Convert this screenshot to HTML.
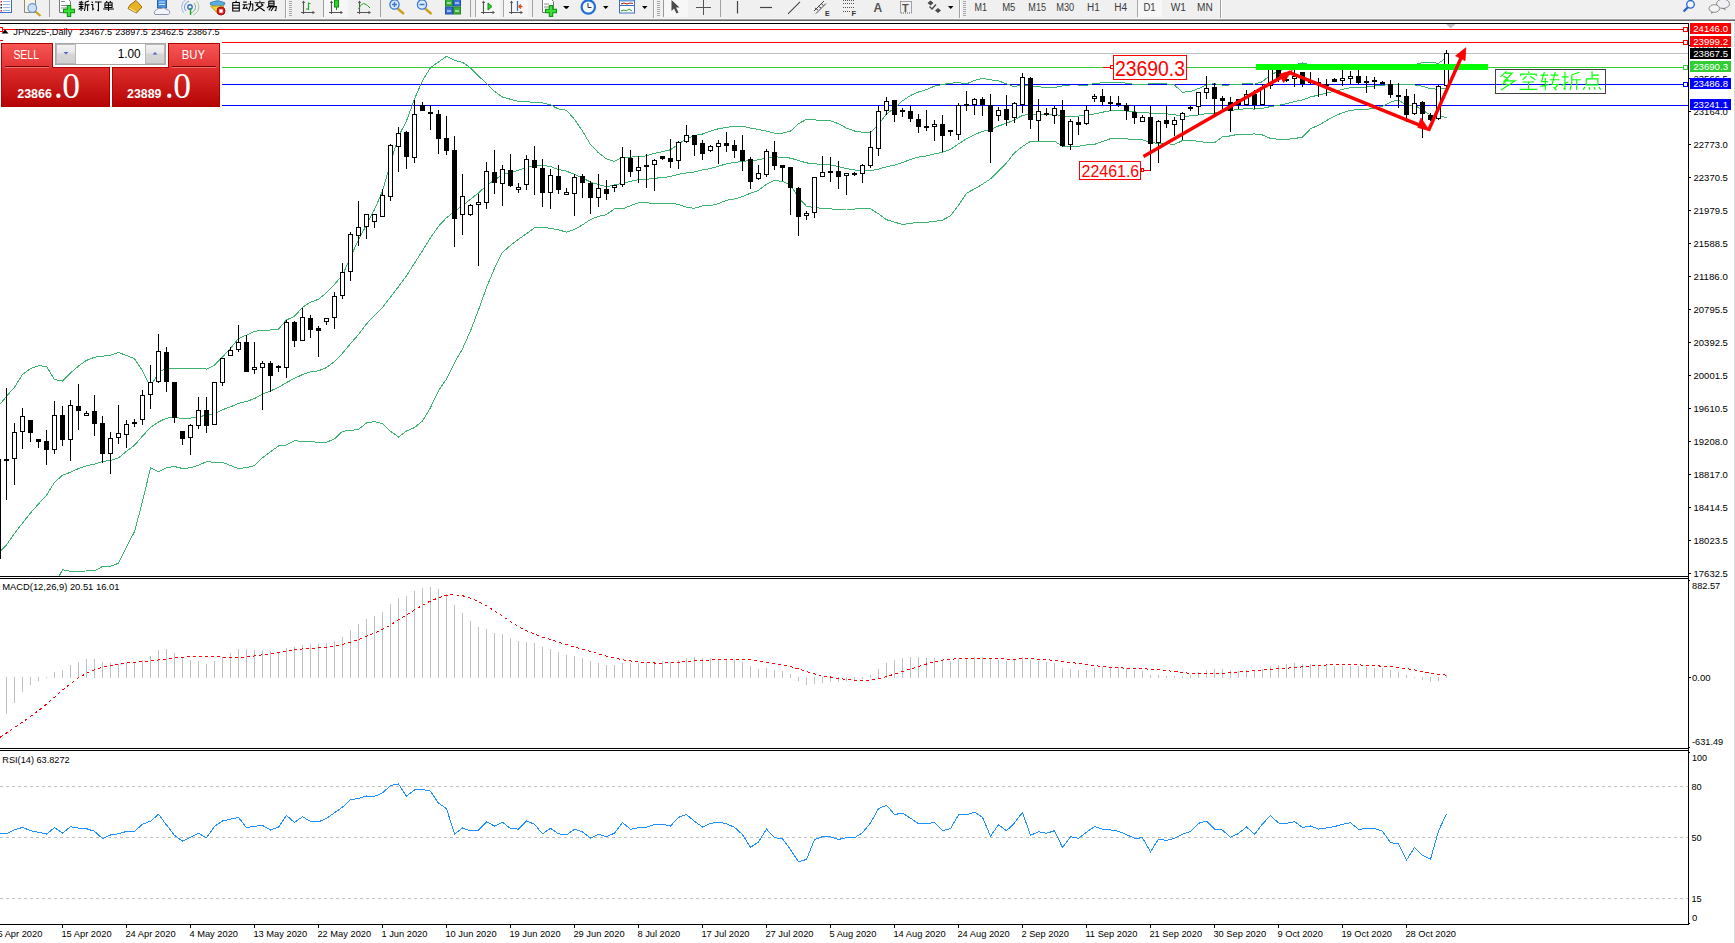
<!DOCTYPE html><html><head><meta charset="utf-8"><style>
html,body{margin:0;padding:0;background:#fff;width:1735px;height:943px;overflow:hidden}
svg{position:absolute;left:0;top:0;display:block}
</style></head><body>
<svg width="1735" height="943" viewBox="0 0 1735 943">
<defs><clipPath id="cm"><rect x="0" y="24" width="1688" height="552"/></clipPath><clipPath id="cd"><rect x="0" y="579" width="1688" height="169"/></clipPath><clipPath id="cr"><rect x="0" y="751" width="1688" height="173"/></clipPath><linearGradient id="gr" x1="0" y1="0" x2="0" y2="1"><stop offset="0" stop-color="#f85656"/><stop offset="0.38" stop-color="#e23434"/><stop offset="0.4" stop-color="#dc2c2c"/><stop offset="1" stop-color="#b40404"/></linearGradient><linearGradient id="gs" x1="0" y1="0" x2="0" y2="1"><stop offset="0" stop-color="#f4f4f4"/><stop offset="0.45" stop-color="#e6e6e6"/><stop offset="0.5" stop-color="#d6d6d6"/><stop offset="1" stop-color="#d0d0d0"/></linearGradient></defs>
<rect x="0" y="0" width="1735" height="943" fill="#fff"/>
<rect x="0" y="0" width="1735" height="18" fill="#f0f0f0"/>
<rect x="0" y="18" width="1735" height="1" fill="#f5f5f5"/>
<rect x="0" y="19" width="1735" height="1" fill="#a2a2a2"/>
<rect x="0" y="20" width="1735" height="1" fill="#6a6a6a"/>
<path d="M49.5 0V16.5" stroke="#a0a0a0" shape-rendering="crispEdges"/>
<path d="M380.5 0V16.5" stroke="#a0a0a0" shape-rendering="crispEdges"/>
<path d="M470.5 0V16.5" stroke="#a0a0a0" shape-rendering="crispEdges"/>
<path d="M532.5 0V16.5" stroke="#a0a0a0" shape-rendering="crispEdges"/>
<path d="M720.5 0V16.5" stroke="#a0a0a0" shape-rendering="crispEdges"/>
<path d="M285.5 0V18" stroke="#a0a0a0" shape-rendering="crispEdges"/><path d="M286.5 0V18" stroke="#fff" shape-rendering="crispEdges"/>
<path d="M653.5 0V18" stroke="#a0a0a0" shape-rendering="crispEdges"/><path d="M654.5 0V18" stroke="#fff" shape-rendering="crispEdges"/>
<path d="M959.5 0V18" stroke="#a0a0a0" shape-rendering="crispEdges"/><path d="M960.5 0V18" stroke="#fff" shape-rendering="crispEdges"/>
<path d="M1220.5 0V18" stroke="#a0a0a0" shape-rendering="crispEdges"/><path d="M1221.5 0V18" stroke="#fff" shape-rendering="crispEdges"/>
<path d="M289 1.5h3M289 3.5h3M289 5.5h3M289 7.5h3M289 9.5h3M289 11.5h3M289 13.5h3M289 15.5h3" stroke="#a8a8a8" shape-rendering="crispEdges"/>
<path d="M657 1.5h3M657 3.5h3M657 5.5h3M657 7.5h3M657 9.5h3M657 11.5h3M657 13.5h3M657 15.5h3" stroke="#a8a8a8" shape-rendering="crispEdges"/>
<path d="M963 1.5h3M963 3.5h3M963 5.5h3M963 7.5h3M963 9.5h3M963 11.5h3M963 13.5h3M963 15.5h3" stroke="#a8a8a8" shape-rendering="crispEdges"/>
<path d="M663.5 0V17" stroke="#9a9a9a" shape-rendering="crispEdges"/>
<path d="M323.5 0V17" stroke="#9a9a9a" shape-rendering="crispEdges"/>
<rect x="324" y="0" width="24" height="17" fill="#f7f7f7"/>
<rect x="475" y="0" width="25" height="17" fill="#f7f7f7"/>
<rect x="503" y="0" width="25" height="17" fill="#f7f7f7"/>
<rect x="664" y="0" width="24" height="17" fill="#f7f7f7"/>
<rect x="1137" y="0" width="25" height="17" fill="#f7f7f7"/>
<path d="M475.5 0V17M503.5 0V17M1137.5 0V17" stroke="#a8a8a8" shape-rendering="crispEdges"/>
<rect x="-1.5" y="-1.5" width="13" height="14" fill="#fff" stroke="#3b6fc6"/>
<path d="M3 1.5h7M3 4.5h7M3 7.5h7M3 10.5h7" stroke="#9cb8e8"/>
<rect x="0.5" y="1" width="1.5" height="1.5" fill="#e02020"/><rect x="0.5" y="4" width="1.5" height="1.5" fill="#222"/><rect x="0.5" y="7" width="1.5" height="1.5" fill="#222"/><rect x="0.5" y="10" width="1.5" height="1.5" fill="#e02020"/>
<path d="M24.5 -1H35.5V12.5H24.5Z" fill="#f6f2e4" stroke="#8a8a7a"/>
<circle cx="32.3" cy="8" r="4.3" fill="#cfe0f2" stroke="#6a98d8" stroke-width="1.2"/>
<path d="M35.5 11.5L40.5 16" stroke="#c9a020" stroke-width="2.2"/>
<path d="M59.5 -1H68L70.5 1.5V12.5H59.5Z" fill="#fff" stroke="#777"/>
<path d="M61 1.5h4M61 5.5h7M61 8h7" stroke="#888"/>
<path d="M63 11h12M69 5v12" stroke="#129012" stroke-width="4.4"/><path d="M64 11h10M69 6v10" stroke="#36e036" stroke-width="2.4"/>
<path d="M81.10 0.80 L81.44 1.82M78.86 2.33 L83.34 2.33M79.98 3.04 L80.54 4.06M82.22 3.04 L81.66 4.06M78.64 4.57 L83.56 4.57M78.86 6.51 L83.34 6.51M81.10 4.57 L81.10 11.00M81.10 7.12 L78.64 9.57M81.44 7.53 L83.34 8.96M88.94 1.11 L85.24 2.33M85.24 2.33 L85.24 6.92 L84.46 11.00M85.24 4.88 L89.50 4.88M87.60 4.88 L87.60 11.00M91.61 1.62 L92.84 2.74M91.05 4.47 L92.73 4.47 L92.73 9.57 L93.96 8.55M94.86 2.02 L101.58 2.02M98.44 2.02 L98.44 10.59 L97.21 9.98M106.26 1.00 L107.16 2.13M110.74 1.00 L109.84 2.13M104.92 2.84 L112.08 2.84 L112.08 7.43 L104.92 7.43 L104.92 2.84M104.92 5.13 L112.08 5.13M108.50 2.84 L108.50 11.00M103.12 9.06 L113.88 9.06" fill="none" stroke="#000" stroke-width="1.05"/>
<path d="M130 5L136 0.5L142 7L136.5 13L128 8.5Z" fill="#e6b422" stroke="#9a6a10"/><path d="M129 8L136 12" stroke="#fff3b0"/>
<rect x="157.5" y="-1" width="9" height="9" fill="#4a90e0" stroke="#2060b0"/><path d="M159 2h6M159 4.5h6" stroke="#cfe4ff"/>
<path d="M155 14.5Q153 11 156.5 10Q157.5 7.5 161 8.5Q164 6.5 166.5 9.5Q170.5 10 169.5 13.5Q169 14.8 167 14.5Z" fill="#f2f4f8" stroke="#8a94a6"/>
<g fill="none"><circle cx="190" cy="7" r="2.2" stroke="#3a6fd0" stroke-width="1.4"/><path d="M186 11A6 6 0 0 1 189 1.3" stroke="#6a8fd8"/><path d="M184 13A8.6 8.6 0 0 1 187.5 -1" stroke="#9ab4e4"/><path d="M194 3A6 6 0 0 1 191 12.8" stroke="#7ab07a"/><path d="M196.5 1A8.6 8.6 0 0 1 193 15" stroke="#a6c8a6"/><path d="M190.5 8v7" stroke="#22aa22" stroke-width="1.4"/></g>
<path d="M210 3Q217 -1 225 3L224 5Q217 8 211 5Z" fill="#5aaee0" stroke="#3a80b8"/><path d="M215 0L216 -1L219 -1L220 2Z" fill="#5aaee0"/>
<path d="M210.5 6L224 6L218 14Z" fill="#f0d040" stroke="#c0a020"/>
<circle cx="221" cy="11" r="4" fill="#d82020" stroke="#a01010"/><rect x="219.3" y="9.3" width="3.4" height="3.4" fill="#fff"/>
<path d="M236.55 0.80 L235.56 2.33M232.70 2.43 L239.30 2.43 L239.30 11.00 L232.70 11.00 L232.70 2.43M232.70 5.29 L239.30 5.29M232.70 8.14 L239.30 8.14M243.18 2.13 L246.70 2.13M242.52 4.78 L247.58 4.78M245.05 4.78 L243.18 8.55 L247.25 8.04M246.26 6.82 L247.58 9.16M248.24 3.96 L252.75 3.96 L252.75 10.18 L251.54 10.59M250.55 1.11 L250.44 5.39 L248.46 11.00M259.60 0.80 L260.15 1.82M254.65 2.74 L264.55 2.74M258.06 3.76 L255.86 5.49M261.14 3.76 L263.34 5.49M256.96 5.49 L264.66 11.00M262.24 5.49 L254.54 11.00M268.76 1.11 L274.04 1.11 L274.04 5.19 L268.76 5.19 L268.76 1.11M268.76 3.15 L274.04 3.15M268.98 5.80 L267.00 8.14M268.54 6.61 L276.35 6.61 L275.80 10.59 L274.59 10.59M271.40 6.61 L268.76 10.39M273.93 6.61 L270.96 11.00" fill="none" stroke="#000" stroke-width="1.05"/>
<path d="M303.5 2V14M301 12.5H314" stroke="#555" stroke-width="1.1" fill="none"/><path d="M303.5 0.5L301.8 3H305.2Z M315 12.5L312.5 10.8V14.2Z" fill="#555"/>
<path d="M308.5 2.5V10M308.5 3.5h2M306 9h2.5" stroke="#22aa22" stroke-width="1.2" fill="none"/>
<path d="M331.5 2V14M329 12.5H342" stroke="#555" stroke-width="1.1" fill="none"/><path d="M331.5 0.5L329.8 3H333.2Z M343 12.5L340.5 10.8V14.2Z" fill="#555"/>
<rect x="334.5" y="0" width="4" height="7" fill="#2fd52f" stroke="#138a13"/><path d="M336.5 7v3" stroke="#138a13"/>
<path d="M359.5 2V14M357 12.5H370" stroke="#555" stroke-width="1.1" fill="none"/><path d="M359.5 0.5L357.8 3H361.2Z M371 12.5L368.5 10.8V14.2Z" fill="#555"/>
<path d="M358.5 9Q362 2 365 4Q367.5 5 370 8" stroke="#22aa22" fill="none"/>
<path d="M397.5 8.5L404.0 14" stroke="#c9a020" stroke-width="2.4"/>
<circle cx="394.5" cy="4.5" r="4.6" fill="#dcebfa" stroke="#3b78d0" stroke-width="1.3"/>
<path d="M392.0 4.5h5M394.5 2v5" stroke="#3b78d0" stroke-width="1.5"/>
<path d="M425 8.5L431.5 14" stroke="#c9a020" stroke-width="2.4"/>
<circle cx="422" cy="4.5" r="4.6" fill="#dcebfa" stroke="#3b78d0" stroke-width="1.3"/>
<path d="M419.5 4.5h5" stroke="#3b78d0" stroke-width="1.5"/>
<rect x="445.5" y="-1" width="7" height="7" fill="#3cb03c" stroke="#208a20"/><rect x="453.5" y="-1" width="7" height="7" fill="#3a70d8" stroke="#2050b0"/><rect x="445.5" y="7" width="7" height="7" fill="#3a70d8" stroke="#2050b0"/><rect x="453.5" y="7" width="7" height="7" fill="#3cb03c" stroke="#208a20"/><path d="M447 3h4M455 3h4M447 11h4M455 11h4" stroke="#fff"/>
<path d="M483.5 2V14M481 12.5H494" stroke="#555" stroke-width="1.1" fill="none"/><path d="M483.5 0.5L481.8 3H485.2Z M495 12.5L492.5 10.8V14.2Z" fill="#555"/>
<path d="M488 3L492 6.5L488 10Z" fill="#2fd52f" stroke="#138a13"/>
<path d="M511.5 2V14M509 12.5H522" stroke="#555" stroke-width="1.1" fill="none"/><path d="M511.5 0.5L509.8 3H513.2Z M523 12.5L520.5 10.8V14.2Z" fill="#555"/>
<path d="M517.5 1V11" stroke="#2a6ad0" stroke-width="1.2"/><path d="M518.5 6.5h4M518.5 6.5l2.5-2M518.5 6.5l2.5 2" stroke="#e05010" stroke-width="1.3" fill="none"/>
<path d="M542.5 -1H551L553.5 1.5V12.5H542.5Z" fill="#fff" stroke="#777"/><path d="M544 4h5M544 7h7" stroke="#888"/>
<path d="M545 11h12M551 5v12" stroke="#129012" stroke-width="4.4"/><path d="M546 11h10M551 6v10" stroke="#36e036" stroke-width="2.4"/>
<path d="M564 6H569.5L566.75 9Z" fill="#000"/>
<path d="M603 6H608.5L605.75 9Z" fill="#000"/>
<path d="M642 6H647.5L644.75 9Z" fill="#000"/>
<path d="M948 6H953.5L950.75 9Z" fill="#000"/>
<path d="M563 6H569L566 9Z" fill="#000"/>
<circle cx="588.3" cy="7" r="7.8" fill="#1f6fd6"/><circle cx="588.3" cy="7" r="5.6" fill="#f4f8ff"/><path d="M588 3V7.5H591.5" stroke="#333" fill="none"/>
<rect x="619.5" y="-1" width="15" height="14" fill="#fff" stroke="#3a70c8"/><rect x="620" y="-0.5" width="14" height="2" fill="#6a9ae0"/><path d="M620 5.5h14" stroke="#3a70c8"/><path d="M621 4L624 3L627 4L630 3L633 3.5" stroke="#b02010" fill="none"/><path d="M621 11L624 10L626.5 10.8L629 9L632 11" stroke="#20a020" fill="none"/>
<path d="M671.5 0L671.5 11L674 8.5L676.5 13.5L678.5 12.5L676 7.5L679.5 7.5Z" fill="#4a4a4a"/>
<path d="M703.5 0V14.5M696 7.5H711" stroke="#555" fill="none" shape-rendering="crispEdges"/>
<path d="M737.5 1V13.5" stroke="#444" stroke-width="1.2"/><path d="M760 7.5H772" stroke="#444" stroke-width="1.2"/><path d="M788 13.8L800 1.8" stroke="#444" stroke-width="1.1"/>
<path d="M814 11L824 1M816 13.5L826 3.5M815 8L818 10M818 6L821 8M821 3.5L823.5 5.5" stroke="#444" fill="none"/><text x="825" y="15.5" font-family="Liberation Sans, sans-serif" font-weight="bold" font-size="7px" fill="#333">E</text>
<path d="M843 0.5h11M843 3.5h11M843 7.5h11M843 11.5h7" stroke="#555" stroke-dasharray="1,1" fill="none"/><text x="851.5" y="15.5" font-family="Liberation Sans, sans-serif" font-weight="bold" font-size="7.5px" fill="#333">F</text>
<text x="873.5" y="12" font-family="Liberation Sans, sans-serif" font-weight="bold" font-size="12px" fill="#555">A</text>
<rect x="900.5" y="1.5" width="11" height="11.5" fill="none" stroke="#555" stroke-dasharray="1,1"/><text x="902" y="11.5" font-family="Liberation Sans, sans-serif" font-weight="bold" font-size="11px" fill="#555">T</text>
<path d="M927.5 3L930.5 0.5L933.5 3L930.5 5.5Z M935 10.5L938 8L941 10.5L938 13Z" fill="#4a4a4a"/><path d="M929.5 6.5L932 9L936 4.5" stroke="#4a4a4a" stroke-width="1.4" fill="none"/>
<text x="974.5" y="11.3" textLength="12.5" lengthAdjust="spacingAndGlyphs" font-family="Liberation Sans, sans-serif" font-size="10px" fill="#3c3c3c">M1</text>
<text x="1002.2" y="11.3" textLength="13.2" lengthAdjust="spacingAndGlyphs" font-family="Liberation Sans, sans-serif" font-size="10px" fill="#3c3c3c">M5</text>
<text x="1028.3" y="11.3" textLength="17.7" lengthAdjust="spacingAndGlyphs" font-family="Liberation Sans, sans-serif" font-size="10px" fill="#3c3c3c">M15</text>
<text x="1056.2" y="11.3" textLength="18.0" lengthAdjust="spacingAndGlyphs" font-family="Liberation Sans, sans-serif" font-size="10px" fill="#3c3c3c">M30</text>
<text x="1087.1" y="11.3" textLength="12.7" lengthAdjust="spacingAndGlyphs" font-family="Liberation Sans, sans-serif" font-size="10px" fill="#3c3c3c">H1</text>
<text x="1114.3" y="11.3" textLength="12.9" lengthAdjust="spacingAndGlyphs" font-family="Liberation Sans, sans-serif" font-size="10px" fill="#3c3c3c">H4</text>
<text x="1143.4" y="11.3" textLength="12.2" lengthAdjust="spacingAndGlyphs" font-family="Liberation Sans, sans-serif" font-size="10px" fill="#3c3c3c">D1</text>
<text x="1170.8" y="11.3" textLength="15.2" lengthAdjust="spacingAndGlyphs" font-family="Liberation Sans, sans-serif" font-size="10px" fill="#3c3c3c">W1</text>
<text x="1197" y="11.3" textLength="15.7" lengthAdjust="spacingAndGlyphs" font-family="Liberation Sans, sans-serif" font-size="10px" fill="#3c3c3c">MN</text>
<circle cx="1690.5" cy="4.3" r="3.8" fill="#f4f6ff" stroke="#2a62d2" stroke-width="1.3"/><path d="M1687.8 7.2L1683.6 11.6" stroke="#2a62d2" stroke-width="2.2"/>
<ellipse cx="1723" cy="3.8" rx="6.5" ry="4.6" fill="#f0f0f4" stroke="#8a8a8a"/><path d="M1724.5 8L1726 10.5L1722 8.3Z" fill="#777"/>
<ellipse cx="1714.3" cy="8.5" rx="5.3" ry="3.8" fill="#f4f4f8" stroke="#8a8a8a"/><path d="M1711.5 12L1711 14L1713.5 12.3Z" fill="#777"/>
<path d="M1734.5 21V943" stroke="#d8d8d8" shape-rendering="crispEdges"/>
<path d="M0 23.5H1688.5M0 576.5H1688.5M0 578.5H1688.5M0 748.5H1688.5M0 750.5H1688.5M0 924.5H1688.5M1688.5 23V925" stroke="#000" fill="none" shape-rendering="crispEdges"/>
<path d="M1689 111.5h2M1689 144.5h2M1689 177.5h2M1689 210.5h2M1689 243.5h2M1689 276.5h2M1689 309.5h2M1689 342.5h2M1689 375.5h2M1689 408.5h2M1689 441.5h2M1689 474.5h2M1689 507.5h2M1689 540.5h2M1689 573.5h2M1689 78.5h2M1689 45.5h2M1689 580.5h1M1689 677.5h2M1689 747.5h1M1689 752.5h1M1689 923.5h1" stroke="#000" shape-rendering="crispEdges"/>
<g clip-path="url(#cm)" shape-rendering="crispEdges" fill="none">
<path d="M0 29.5H1688" stroke="#f00"/><path d="M0 42.5H1688" stroke="#f00"/><path d="M0 53.5H1688" stroke="#c0c0c0"/>
<path d="M0 67.5H1103M1187 67.5H1688" stroke="#32cd32"/><path d="M1103 67.5H1111" stroke="#f00"/>
<path d="M0 84.5H1688" stroke="#00f"/><path d="M0 105.5H1688" stroke="#00f"/>
</g>
<path d="M1446 24H1455.5L1450.75 28.5Z" fill="#c0c0c0"/>
<g clip-path="url(#cm)" fill="none" stroke="#3cb371" stroke-width="1" shape-rendering="crispEdges">
<polyline points="-9.5,416.5 -1.5,406.1 6.5,396.3 14.5,387.2 22.5,374.4 30.5,368.6 38.5,365.8 46.5,366.3 54.5,379.6 62.5,381.0 70.5,373.0 78.5,366.0 86.5,360.4 94.5,357.2 102.5,356.3 110.5,355.1 118.5,352.5 126.5,355.5 134.5,358.7 142.5,370.9 150.5,387.0 158.5,372.2 166.5,368.6 174.5,368.3 182.5,368.6 190.5,368.6 198.5,368.1 206.5,369.1 214.5,365.2 222.5,357.0 230.5,348.2 238.5,338.5 246.5,335.1 254.5,331.4 262.5,330.2 270.5,330.0 278.5,329.1 286.5,320.0 294.5,316.2 302.5,307.4 310.5,302.1 318.5,299.3 326.5,292.8 334.5,284.3 342.5,275.2 350.5,257.0 358.5,239.7 366.5,224.9 374.5,209.5 382.5,191.2 390.5,163.0 398.5,136.4 406.5,120.9 414.5,99.1 422.5,80.5 430.5,67.7 438.5,61.9 446.5,56.4 454.5,60.4 462.5,62.3 470.5,67.8 478.5,75.9 486.5,83.5 494.5,91.4 502.5,97.0 510.5,99.3 518.5,101.4 526.5,101.5 534.5,102.7 542.5,102.8 550.5,104.9 558.5,109.0 566.5,110.3 574.5,119.3 582.5,131.0 590.5,144.6 598.5,152.8 606.5,158.9 614.5,161.4 622.5,157.2 630.5,157.1 638.5,156.6 646.5,155.9 654.5,153.3 662.5,151.6 670.5,149.8 678.5,144.1 686.5,138.7 694.5,135.5 702.5,134.0 710.5,131.2 718.5,128.7 726.5,127.4 734.5,126.1 742.5,126.2 750.5,128.1 758.5,129.4 766.5,131.2 774.5,133.1 782.5,133.2 790.5,131.2 798.5,123.6 806.5,119.4 814.5,119.9 822.5,120.5 830.5,120.9 838.5,123.7 846.5,128.1 854.5,131.0 862.5,132.3 870.5,132.5 878.5,124.3 886.5,114.0 894.5,107.9 902.5,100.8 910.5,95.5 918.5,92.0 926.5,89.5 934.5,86.2 942.5,84.5 950.5,83.2 958.5,82.6 966.5,83.9 974.5,80.4 982.5,78.5 990.5,79.8 998.5,80.9 1006.5,83.8 1014.5,86.9 1022.5,84.4 1030.5,86.6 1038.5,86.6 1046.5,87.9 1054.5,87.4 1062.5,85.9 1070.5,86.0 1078.5,86.0 1086.5,85.5 1094.5,83.3 1102.5,82.9 1110.5,82.7 1118.5,82.6 1126.5,83.1 1134.5,84.4 1142.5,85.0 1150.5,83.5 1158.5,83.9 1166.5,83.9 1174.5,85.0 1182.5,92.3 1190.5,91.5 1198.5,88.6 1206.5,84.7 1214.5,83.7 1222.5,85.1 1230.5,85.0 1238.5,84.8 1246.5,83.1 1254.5,84.2 1262.5,81.7 1270.5,74.8 1278.5,71.3 1286.5,68.1 1294.5,64.7 1302.5,63.0 1310.5,65.0 1318.5,64.9 1326.5,65.5 1334.5,66.2 1342.5,66.0 1350.5,65.4 1358.5,64.9 1366.5,64.5 1374.5,64.3 1382.5,64.5 1390.5,66.8 1398.5,68.2 1406.5,64.6 1414.5,64.8 1422.5,62.6 1430.5,62.5 1438.5,63.2 1446.5,57.8"/>
<polyline points="-9.5,557.2 -1.5,553.1 6.5,544.9 14.5,533.4 22.5,523.1 30.5,513.0 38.5,503.9 46.5,495.4 54.5,482.2 62.5,475.3 70.5,472.2 78.5,468.6 86.5,465.7 94.5,464.1 102.5,461.4 110.5,460.6 118.5,457.9 126.5,451.2 134.5,445.2 142.5,436.1 150.5,427.4 158.5,422.0 166.5,418.1 174.5,417.4 182.5,418.5 190.5,418.2 198.5,416.6 206.5,415.4 214.5,413.7 222.5,409.7 230.5,406.9 238.5,403.5 246.5,401.4 254.5,398.6 262.5,394.0 270.5,390.9 278.5,387.5 286.5,382.5 294.5,378.4 302.5,374.5 310.5,371.8 318.5,370.8 326.5,367.6 334.5,361.6 342.5,353.2 350.5,343.7 358.5,334.5 366.5,323.9 374.5,315.5 382.5,307.4 390.5,297.1 398.5,286.7 406.5,275.9 414.5,263.3 422.5,250.7 430.5,237.7 438.5,226.3 446.5,217.7 454.5,211.6 462.5,205.5 470.5,199.3 478.5,192.9 486.5,185.6 494.5,179.9 502.5,174.7 510.5,172.3 518.5,170.3 526.5,167.6 534.5,165.2 542.5,165.1 550.5,166.6 558.5,169.5 566.5,171.2 574.5,174.3 582.5,177.9 590.5,182.1 598.5,184.6 606.5,186.7 614.5,185.0 622.5,183.1 630.5,181.4 638.5,179.7 646.5,179.4 654.5,178.2 662.5,177.7 670.5,176.5 678.5,174.2 686.5,173.0 694.5,171.9 702.5,169.9 710.5,168.5 718.5,166.2 726.5,163.8 734.5,162.5 742.5,161.4 750.5,160.6 758.5,159.9 766.5,157.7 774.5,156.8 782.5,157.3 790.5,158.1 798.5,160.5 806.5,162.9 814.5,163.8 822.5,164.4 830.5,164.9 838.5,166.6 846.5,168.6 854.5,170.0 862.5,170.6 870.5,170.7 878.5,169.1 886.5,166.8 894.5,165.1 902.5,162.6 910.5,159.4 918.5,157.1 926.5,155.9 934.5,153.9 942.5,152.3 950.5,149.5 958.5,143.9 966.5,138.6 974.5,134.7 982.5,131.3 990.5,129.3 998.5,126.0 1006.5,123.3 1014.5,119.8 1022.5,115.4 1030.5,114.0 1038.5,114.0 1046.5,114.7 1054.5,114.3 1062.5,116.0 1070.5,116.2 1078.5,116.1 1086.5,115.3 1094.5,113.9 1102.5,112.2 1110.5,110.7 1118.5,110.7 1126.5,111.0 1134.5,111.9 1142.5,112.5 1150.5,113.1 1158.5,113.6 1166.5,113.8 1174.5,114.7 1182.5,116.5 1190.5,115.9 1198.5,115.0 1206.5,113.6 1214.5,113.2 1222.5,110.9 1230.5,110.4 1238.5,109.5 1246.5,108.6 1254.5,109.1 1262.5,108.3 1270.5,106.6 1278.5,105.3 1286.5,103.7 1294.5,101.6 1302.5,100.0 1310.5,96.9 1318.5,95.1 1326.5,93.1 1334.5,91.1 1342.5,89.4 1350.5,87.8 1358.5,87.3 1366.5,87.0 1374.5,86.1 1382.5,85.3 1390.5,84.5 1398.5,84.0 1406.5,85.0 1414.5,84.9 1422.5,86.3 1430.5,88.8 1438.5,89.2 1446.5,87.9"/>
<polyline points="-9.5,697.9 -1.5,700.0 6.5,693.5 14.5,679.6 22.5,671.8 30.5,657.4 38.5,641.9 46.5,624.4 54.5,584.8 62.5,569.7 70.5,571.4 78.5,571.1 86.5,571.0 94.5,570.9 102.5,566.5 110.5,566.1 118.5,563.3 126.5,546.9 134.5,531.6 142.5,501.4 150.5,467.9 158.5,471.9 166.5,467.6 174.5,466.5 182.5,468.5 190.5,467.8 198.5,465.1 206.5,461.7 214.5,462.2 222.5,462.3 230.5,465.6 238.5,468.5 246.5,467.7 254.5,465.7 262.5,457.8 270.5,451.7 278.5,446.0 286.5,445.0 294.5,440.6 302.5,441.6 310.5,441.6 318.5,442.4 326.5,442.4 334.5,438.8 342.5,431.3 350.5,430.4 358.5,429.4 366.5,423.0 374.5,421.6 382.5,423.6 390.5,431.3 398.5,436.9 406.5,431.0 414.5,427.6 422.5,420.9 430.5,407.6 438.5,390.6 446.5,379.0 454.5,362.7 462.5,348.8 470.5,330.8 478.5,309.9 486.5,287.6 494.5,268.4 502.5,252.4 510.5,245.3 518.5,239.2 526.5,233.7 534.5,227.8 542.5,227.4 550.5,228.3 558.5,229.9 566.5,232.1 574.5,229.4 582.5,224.8 590.5,219.5 598.5,216.3 606.5,214.6 614.5,208.7 622.5,209.0 630.5,205.7 638.5,202.7 646.5,202.9 654.5,203.2 662.5,203.9 670.5,203.3 678.5,204.4 686.5,207.3 694.5,208.3 702.5,205.8 710.5,205.7 718.5,203.6 726.5,200.3 734.5,198.9 742.5,196.6 750.5,193.1 758.5,190.4 766.5,184.2 774.5,180.4 782.5,181.4 790.5,184.9 798.5,197.5 806.5,206.3 814.5,207.6 822.5,208.3 830.5,208.9 838.5,209.6 846.5,209.0 854.5,209.0 862.5,208.9 870.5,208.8 878.5,213.8 886.5,219.7 894.5,222.2 902.5,224.4 910.5,223.4 918.5,222.3 926.5,222.3 934.5,221.5 942.5,220.1 950.5,215.8 958.5,205.3 966.5,193.2 974.5,188.9 982.5,184.2 990.5,178.9 998.5,171.1 1006.5,162.9 1014.5,152.8 1022.5,146.4 1030.5,141.4 1038.5,141.4 1046.5,141.4 1054.5,141.3 1062.5,146.2 1070.5,146.4 1078.5,146.2 1086.5,145.0 1094.5,144.4 1102.5,141.4 1110.5,138.7 1118.5,138.7 1126.5,138.9 1134.5,139.4 1142.5,139.9 1150.5,142.6 1158.5,143.3 1166.5,143.8 1174.5,144.3 1182.5,140.6 1190.5,140.3 1198.5,141.3 1206.5,142.5 1214.5,142.7 1222.5,136.8 1230.5,135.9 1238.5,134.1 1246.5,134.1 1254.5,134.0 1262.5,135.0 1270.5,138.4 1278.5,139.3 1286.5,139.3 1294.5,138.6 1302.5,137.0 1310.5,128.8 1318.5,125.3 1326.5,120.6 1334.5,116.1 1342.5,112.8 1350.5,110.2 1358.5,109.7 1366.5,109.5 1374.5,108.0 1382.5,106.1 1390.5,102.1 1398.5,99.8 1406.5,105.4 1414.5,105.1 1422.5,110.0 1430.5,115.2 1438.5,115.2 1446.5,118.0"/>
</g>
<g clip-path="url(#cm)" shape-rendering="crispEdges">
<path d="M-1.5 459V559M6.5 388V500M14.5 423V485M22.5 408V449M30.5 420V442M38.5 439V448M46.5 430V465M54.5 401V454M62.5 406V446M70.5 400V461M78.5 384V430M86.5 411V416M94.5 395V436M102.5 416V463M110.5 432V474M118.5 405V444M126.5 420V448M134.5 419V427M142.5 390V425M150.5 365V409M158.5 334V383M166.5 347V392M174.5 382V423M182.5 431V445M190.5 424V455M198.5 397V429M206.5 397V433M214.5 382V425M222.5 358V386M230.5 347V356M238.5 325V352M246.5 335V372M254.5 342V374M262.5 361V410M270.5 361V392M278.5 365V372M286.5 320V378M294.5 321V347M302.5 308V341M310.5 315V338M318.5 326V357M326.5 318V325M334.5 292V329M342.5 263V299M350.5 232V281M358.5 201V246M366.5 214V239M374.5 214V228M382.5 189V217M390.5 144V201M398.5 127V172M406.5 131V169M414.5 100V163M422.5 102V111M430.5 105V130M438.5 110V154M446.5 116V155M454.5 136V247M462.5 174V235M470.5 204V216M478.5 194V266M486.5 162V209M494.5 150V194M502.5 165V206M510.5 154V187M518.5 183V193M526.5 155V190M534.5 146V195M542.5 159V207M550.5 169V209M558.5 165V194M566.5 188V195M574.5 174V216M582.5 174V198M590.5 181V214M598.5 174V207M606.5 180V200M614.5 185V192M622.5 147V187M630.5 150V177M638.5 156V183M646.5 154V188M654.5 159V191M662.5 156V160M670.5 139V168M678.5 141V169M686.5 125V143M694.5 135V156M702.5 140V160M710.5 145V152M718.5 140V164M726.5 132V152M734.5 140V158M742.5 135V171M750.5 157V189M758.5 165V180M766.5 149V177M774.5 141V170M782.5 165V181M790.5 167V215M798.5 187V236M806.5 211V220M814.5 177V218M822.5 156V177M830.5 157V182M838.5 161V189M846.5 173V195M854.5 172V176M862.5 164V183M870.5 131V168M878.5 106V156M886.5 97V115M894.5 100V122M902.5 108V117M910.5 106V122M918.5 114V133M926.5 110V131M934.5 120V141M942.5 115V152M950.5 130V136M958.5 103V140M966.5 91V111M974.5 98V115M982.5 97V116M990.5 94V163M998.5 107V121M1006.5 95V126M1014.5 102V123M1022.5 73V113M1030.5 77V129M1038.5 99V141M1046.5 108V116M1054.5 106V124M1062.5 100V147M1070.5 119V150M1078.5 117V135M1086.5 105V125M1094.5 94V102M1102.5 89V105M1110.5 96V111M1118.5 96V107M1126.5 103V120M1134.5 106V124M1142.5 115V122M1150.5 106V171M1158.5 120V163M1166.5 105V128M1174.5 117V136M1182.5 112V140M1190.5 106V111M1198.5 92V115M1206.5 76V99M1214.5 83V114M1222.5 96V109M1230.5 97V132M1238.5 99V109M1246.5 90V106M1254.5 90V109M1262.5 84V105M1270.5 66V89M1278.5 64V82M1286.5 75V82M1294.5 70V87M1302.5 72V87M1310.5 72V84M1318.5 78V97M1326.5 79V96M1334.5 78V82M1342.5 70V86M1350.5 71V84M1358.5 70V84M1366.5 76V93M1374.5 77V89M1382.5 81V84M1390.5 80V98M1398.5 83V108M1406.5 89V122M1414.5 94V115M1422.5 101V138M1430.5 113V121M1438.5 85V120M1446.5 50V87" stroke="#000"/>
<path d="M4 459h5v2h-5zM132 422h5v2h-5zM276 366h5v2h-5zM644 165h5v2h-5zM828 171h5v2h-5zM852 173h5v2h-5zM900 110h5v2h-5zM924 126h5v2h-5zM964 104h5v2h-5zM1044 113h5v2h-5zM1108 102h5v2h-5zM1188 107h5v2h-5zM1284 79h5v2h-5zM1364 81h5v2h-5zM1396 95h5v2h-5z" fill="#000"/>
<path d="M28 420h5v13h-5zM36 439h5v3h-5zM44 441h5v9h-5zM60 415h5v25h-5zM76 406h5v5h-5zM92 411h5v13h-5zM100 423h5v31h-5zM164 352h5v30h-5zM172 382h5v36h-5zM180 431h5v8h-5zM204 410h5v16h-5zM244 342h5v30h-5zM268 363h5v13h-5zM292 322h5v19h-5zM308 318h5v12h-5zM316 328h5v3h-5zM404 132h5v25h-5zM420 105h5v6h-5zM428 112h5v2h-5zM436 114h5v25h-5zM444 138h5v13h-5zM452 150h5v69h-5zM492 172h5v11h-5zM508 170h5v16h-5zM532 160h5v8h-5zM540 168h5v25h-5zM556 176h5v14h-5zM580 176h5v7h-5zM588 183h5v15h-5zM604 189h5v5h-5zM628 158h5v14h-5zM660 156h5v3h-5zM668 158h5v4h-5zM692 135h5v10h-5zM700 143h5v11h-5zM724 143h5v3h-5zM732 145h5v6h-5zM740 150h5v11h-5zM748 159h5v23h-5zM772 152h5v14h-5zM780 165h5v3h-5zM788 167h5v21h-5zM796 188h5v29h-5zM836 171h5v6h-5zM892 100h5v15h-5zM908 111h5v8h-5zM916 119h5v8h-5zM940 124h5v12h-5zM948 130h5v2h-5zM980 99h5v6h-5zM988 105h5v27h-5zM1004 109h5v11h-5zM1028 78h5v42h-5zM1060 110h5v36h-5zM1076 122h5v3h-5zM1100 96h5v6h-5zM1116 103h5v2h-5zM1124 105h5v6h-5zM1132 112h5v6h-5zM1148 117h5v27h-5zM1164 120h5v4h-5zM1212 87h5v12h-5zM1220 98h5v3h-5zM1228 102h5v9h-5zM1236 99h5v6h-5zM1252 94h5v11h-5zM1276 69h5v10h-5zM1300 72h5v12h-5zM1316 82h5v3h-5zM1332 79h5v3h-5zM1356 76h5v7h-5zM1372 80h5v2h-5zM1380 82h5v2h-5zM1388 84h5v11h-5zM1404 96h5v19h-5zM1420 102h5v12h-5zM1428 115h5v5h-5z" fill="#000"/>
<rect x="-3.5" y="459.5" width="4" height="99" fill="#fff" stroke="#000"/><rect x="12.5" y="432.5" width="4" height="26" fill="#fff" stroke="#000"/><rect x="20.5" y="416.5" width="4" height="15" fill="#fff" stroke="#000"/><rect x="52.5" y="415.5" width="4" height="34" fill="#fff" stroke="#000"/><rect x="68.5" y="405.5" width="4" height="34" fill="#fff" stroke="#000"/><rect x="84.5" y="413.5" width="4" height="2" fill="#fff" stroke="#000"/><rect x="108.5" y="438.5" width="4" height="15" fill="#fff" stroke="#000"/><rect x="116.5" y="433.5" width="4" height="4" fill="#fff" stroke="#000"/><rect x="124.5" y="424.5" width="4" height="10" fill="#fff" stroke="#000"/><rect x="140.5" y="395.5" width="4" height="24" fill="#fff" stroke="#000"/><rect x="148.5" y="382.5" width="4" height="12" fill="#fff" stroke="#000"/><rect x="156.5" y="351.5" width="4" height="30" fill="#fff" stroke="#000"/><rect x="188.5" y="425.5" width="4" height="12" fill="#fff" stroke="#000"/><rect x="196.5" y="410.5" width="4" height="15" fill="#fff" stroke="#000"/><rect x="212.5" y="382.5" width="4" height="42" fill="#fff" stroke="#000"/><rect x="220.5" y="358.5" width="4" height="24" fill="#fff" stroke="#000"/><rect x="228.5" y="350.5" width="4" height="5" fill="#fff" stroke="#000"/><rect x="236.5" y="342.5" width="4" height="7" fill="#fff" stroke="#000"/><rect x="252.5" y="367.5" width="4" height="2" fill="#fff" stroke="#000"/><rect x="260.5" y="363.5" width="4" height="4" fill="#fff" stroke="#000"/><rect x="284.5" y="322.5" width="4" height="45" fill="#fff" stroke="#000"/><rect x="300.5" y="317.5" width="4" height="23" fill="#fff" stroke="#000"/><rect x="324.5" y="318.5" width="4" height="3" fill="#fff" stroke="#000"/><rect x="332.5" y="296.5" width="4" height="21" fill="#fff" stroke="#000"/><rect x="340.5" y="272.5" width="4" height="23" fill="#fff" stroke="#000"/><rect x="348.5" y="234.5" width="4" height="37" fill="#fff" stroke="#000"/><rect x="356.5" y="227.5" width="4" height="8" fill="#fff" stroke="#000"/><rect x="364.5" y="214.5" width="4" height="12" fill="#fff" stroke="#000"/><rect x="372.5" y="214.5" width="4" height="7" fill="#fff" stroke="#000"/><rect x="380.5" y="195.5" width="4" height="21" fill="#fff" stroke="#000"/><rect x="388.5" y="145.5" width="4" height="51" fill="#fff" stroke="#000"/><rect x="396.5" y="133.5" width="4" height="13" fill="#fff" stroke="#000"/><rect x="412.5" y="114.5" width="4" height="43" fill="#fff" stroke="#000"/><rect x="460.5" y="196.5" width="4" height="18" fill="#fff" stroke="#000"/><rect x="468.5" y="205.5" width="4" height="9" fill="#fff" stroke="#000"/><rect x="476.5" y="202.5" width="4" height="2" fill="#fff" stroke="#000"/><rect x="484.5" y="171.5" width="4" height="31" fill="#fff" stroke="#000"/><rect x="500.5" y="169.5" width="4" height="14" fill="#fff" stroke="#000"/><rect x="516.5" y="187.5" width="4" height="2" fill="#fff" stroke="#000"/><rect x="524.5" y="159.5" width="4" height="25" fill="#fff" stroke="#000"/><rect x="548.5" y="175.5" width="4" height="17" fill="#fff" stroke="#000"/><rect x="564.5" y="192.5" width="4" height="2" fill="#fff" stroke="#000"/><rect x="572.5" y="177.5" width="4" height="16" fill="#fff" stroke="#000"/><rect x="596.5" y="188.5" width="4" height="9" fill="#fff" stroke="#000"/><rect x="612.5" y="185.5" width="4" height="2" fill="#fff" stroke="#000"/><rect x="620.5" y="157.5" width="4" height="27" fill="#fff" stroke="#000"/><rect x="636.5" y="167.5" width="4" height="3" fill="#fff" stroke="#000"/><rect x="652.5" y="160.5" width="4" height="4" fill="#fff" stroke="#000"/><rect x="676.5" y="142.5" width="4" height="18" fill="#fff" stroke="#000"/><rect x="684.5" y="135.5" width="4" height="6" fill="#fff" stroke="#000"/><rect x="708.5" y="146.5" width="4" height="4" fill="#fff" stroke="#000"/><rect x="716.5" y="143.5" width="4" height="3" fill="#fff" stroke="#000"/><rect x="756.5" y="173.5" width="4" height="5" fill="#fff" stroke="#000"/><rect x="764.5" y="151.5" width="4" height="23" fill="#fff" stroke="#000"/><rect x="804.5" y="213.5" width="4" height="2" fill="#fff" stroke="#000"/><rect x="812.5" y="177.5" width="4" height="35" fill="#fff" stroke="#000"/><rect x="820.5" y="172.5" width="4" height="4" fill="#fff" stroke="#000"/><rect x="844.5" y="173.5" width="4" height="2" fill="#fff" stroke="#000"/><rect x="860.5" y="165.5" width="4" height="8" fill="#fff" stroke="#000"/><rect x="868.5" y="147.5" width="4" height="18" fill="#fff" stroke="#000"/><rect x="876.5" y="111.5" width="4" height="37" fill="#fff" stroke="#000"/><rect x="884.5" y="101.5" width="4" height="9" fill="#fff" stroke="#000"/><rect x="932.5" y="124.5" width="4" height="2" fill="#fff" stroke="#000"/><rect x="956.5" y="105.5" width="4" height="29" fill="#fff" stroke="#000"/><rect x="972.5" y="99.5" width="4" height="5" fill="#fff" stroke="#000"/><rect x="996.5" y="110.5" width="4" height="5" fill="#fff" stroke="#000"/><rect x="1012.5" y="103.5" width="4" height="14" fill="#fff" stroke="#000"/><rect x="1020.5" y="77.5" width="4" height="27" fill="#fff" stroke="#000"/><rect x="1036.5" y="111.5" width="4" height="9" fill="#fff" stroke="#000"/><rect x="1052.5" y="108.5" width="4" height="7" fill="#fff" stroke="#000"/><rect x="1068.5" y="121.5" width="4" height="23" fill="#fff" stroke="#000"/><rect x="1084.5" y="110.5" width="4" height="13" fill="#fff" stroke="#000"/><rect x="1092.5" y="96.5" width="4" height="2" fill="#fff" stroke="#000"/><rect x="1140.5" y="117.5" width="4" height="4" fill="#fff" stroke="#000"/><rect x="1156.5" y="121.5" width="4" height="21" fill="#fff" stroke="#000"/><rect x="1172.5" y="120.5" width="4" height="4" fill="#fff" stroke="#000"/><rect x="1180.5" y="113.5" width="4" height="6" fill="#fff" stroke="#000"/><rect x="1196.5" y="92.5" width="4" height="14" fill="#fff" stroke="#000"/><rect x="1204.5" y="88.5" width="4" height="4" fill="#fff" stroke="#000"/><rect x="1244.5" y="94.5" width="4" height="10" fill="#fff" stroke="#000"/><rect x="1260.5" y="87.5" width="4" height="17" fill="#fff" stroke="#000"/><rect x="1268.5" y="69.5" width="4" height="16" fill="#fff" stroke="#000"/><rect x="1292.5" y="76.5" width="4" height="2" fill="#fff" stroke="#000"/><rect x="1308.5" y="81.5" width="4" height="1" fill="#fff" stroke="#000"/><rect x="1324.5" y="84.5" width="4" height="1" fill="#fff" stroke="#000"/><rect x="1340.5" y="78.5" width="4" height="2" fill="#fff" stroke="#000"/><rect x="1348.5" y="76.5" width="4" height="2" fill="#fff" stroke="#000"/><rect x="1412.5" y="103.5" width="4" height="10" fill="#fff" stroke="#000"/><rect x="1436.5" y="86.5" width="4" height="32" fill="#fff" stroke="#000"/><rect x="1444.5" y="53.5" width="4" height="32" fill="#fff" stroke="#000"/>
</g>
<rect x="1256" y="64" width="232" height="6" fill="#00ff00"/>
<rect x="1495.5" y="69.5" width="110" height="24" fill="none" stroke="#404040" shape-rendering="crispEdges"/>
<path d="M1506.47 71.30 L1500.42 76.94M1505.30 73.18 L1512.32 73.18 L1503.35 81.83M1503.35 76.19 L1507.25 78.07M1508.42 78.82 L1502.18 84.65M1507.25 80.89 L1515.05 80.89 L1501.01 90.10M1505.30 83.71 L1509.20 85.59M1528.45 71.30 L1529.04 73.18M1520.65 76.19 L1520.65 74.12 L1536.25 74.12 L1536.25 76.19M1526.50 76.19 L1522.60 79.95M1530.40 76.19 L1535.47 79.95M1522.60 82.02 L1534.30 82.02M1528.45 82.02 L1528.45 89.16M1519.67 89.35 L1537.23 89.35M1540.49 75.06 L1548.09 75.06M1544.38 71.86 L1541.46 81.64 L1548.09 81.64M1545.36 77.88 L1545.36 90.10M1540.29 86.34 L1548.68 84.65M1550.62 75.06 L1558.43 75.06M1549.65 79.76 L1559.40 79.76M1555.31 71.86 L1552.19 84.46 L1558.04 84.46 L1555.11 88.22M1553.55 87.28 L1556.67 90.10M1561.68 76.94 L1568.51 76.94M1565.00 71.86 L1565.00 89.16 L1563.44 88.22M1561.68 85.59 L1568.51 81.83M1579.62 72.24 L1571.82 74.68M1571.82 74.68 L1571.82 82.58 L1569.88 90.10M1571.82 79.76 L1580.60 79.76M1576.70 79.76 L1576.70 90.10M1592.05 71.30 L1592.05 78.82M1592.05 75.06 L1598.88 75.06M1586.20 78.82 L1597.90 78.82 L1597.90 84.84 L1586.20 84.84 L1586.20 78.82M1584.84 86.90 L1583.27 89.72M1589.12 87.09 L1590.10 89.72M1594.00 87.09 L1595.17 89.72M1598.88 86.90 L1600.83 89.72" fill="none" stroke="#00ff00" stroke-width="1.15"/>
<rect x="1113.5" y="55.5" width="73" height="24" fill="#fff" stroke="#f00" shape-rendering="crispEdges"/>
<rect x="1110.5" y="65.5" width="2.5" height="3" fill="#fff" stroke="#f00" shape-rendering="crispEdges"/>
<text x="1115" y="76.3" font-family="Liberation Sans, sans-serif" font-size="22.4px" fill="#f00" textLength="70.00" lengthAdjust="spacingAndGlyphs" >23690.3</text>
<rect x="1079.5" y="161.5" width="61" height="18" fill="#fff" stroke="#f00" shape-rendering="crispEdges"/>
<rect x="1141.5" y="168.5" width="2" height="3" fill="#fff" stroke="#f00" shape-rendering="crispEdges"/><path d="M1144 170.5H1150" stroke="#f00" shape-rendering="crispEdges"/>
<text x="1081.6" y="177" font-family="Liberation Sans, sans-serif" font-size="16.8px" fill="#f00" textLength="57.60" lengthAdjust="spacingAndGlyphs" >22461.6</text>
<path d="M1143.5 156.5L1285.5 74.8" stroke="#f00" stroke-width="3.4" fill="none"/>
<path d="M1292.2 70.6L1279.4 74.2L1283.6 82.6Z" fill="#f00" stroke="#f00" stroke-width="0.8" stroke-linejoin="miter"/>
<path d="M1288.5 72.2L1424.5 127.2" stroke="#f00" stroke-width="3.4" fill="none"/>
<path d="M1429.6 130.8L1417.8 127.4L1420.9 117.9Z" fill="#f00" stroke="#f00" stroke-width="0.8" stroke-linejoin="miter"/>
<path d="M1428.5 130.5L1461.5 57.0" stroke="#f00" stroke-width="3.4" fill="none"/>
<path d="M1465.8 47.8L1455.6 55.8L1465.0 60.6Z" fill="#f00" stroke="#f00" stroke-width="0.8" stroke-linejoin="miter"/>
<path d="M1.5 33.5L5 29.5L8.5 33.5Z" fill="#000"/>
<rect x="-1.5" y="27.5" width="4" height="4" fill="#fff" stroke="#f00" shape-rendering="crispEdges"/>
<text x="13.3" y="34.8" font-family="Liberation Sans, sans-serif" font-size="9.9px" fill="#000" textLength="59.00" lengthAdjust="spacingAndGlyphs" >JPN225-,Daily</text>
<text x="79.3" y="34.8" font-family="Liberation Sans, sans-serif" font-size="9.9px" fill="#000" textLength="32.70" lengthAdjust="spacingAndGlyphs" >23467.5</text>
<text x="115.3" y="34.8" font-family="Liberation Sans, sans-serif" font-size="9.9px" fill="#000" textLength="32.50" lengthAdjust="spacingAndGlyphs" >23897.5</text>
<text x="151.1" y="34.8" font-family="Liberation Sans, sans-serif" font-size="9.9px" fill="#000" textLength="32.50" lengthAdjust="spacingAndGlyphs" >23462.5</text>
<text x="186.9" y="34.8" font-family="Liberation Sans, sans-serif" font-size="9.9px" fill="#000" textLength="32.50" lengthAdjust="spacingAndGlyphs" >23867.5</text>
<rect x="0" y="41" width="222" height="67" fill="#fff"/>
<path d="M0 40.5h3" stroke="#f00" shape-rendering="crispEdges"/>
<path d="M1.5 43.5H52.5V67.5H109.5V106.5H1.5Z" fill="url(#gr)" stroke="#b00000" shape-rendering="crispEdges"/>
<path d="M219.5 43.5H168.5V67.5H112.5V106.5H219.5Z" fill="url(#gr)" stroke="#b00000" shape-rendering="crispEdges"/>
<path d="M5 66.5H49M172 66.5H216" stroke="#7a0000" shape-rendering="crispEdges"/><path d="M5 67.5H49M172 67.5H216" stroke="#f07070" shape-rendering="crispEdges"/>
<rect x="55.5" y="43.5" width="110" height="21" fill="#fff" stroke="#a8a8a8" shape-rendering="crispEdges"/>
<rect x="56.5" y="44.5" width="19" height="19" fill="url(#gs)" stroke="#b8b8b8" shape-rendering="crispEdges"/>
<rect x="145.5" y="44.5" width="19" height="19" fill="url(#gs)" stroke="#b8b8b8" shape-rendering="crispEdges"/>
<path d="M63.5 52H68.5L66 54.5Z" fill="#5060c8"/><path d="M152.5 54.5H157.5L155 52Z" fill="#5060c8"/>
<text x="117.7" y="58" font-family="Liberation Sans, sans-serif" font-size="12px" fill="#000" textLength="23.00" lengthAdjust="spacingAndGlyphs" >1.00</text>
<text x="13.4" y="59" font-family="Liberation Sans, sans-serif" font-size="12.4px" fill="#fff" textLength="25.60" lengthAdjust="spacingAndGlyphs" >SELL</text>
<text x="181.7" y="58.8" font-family="Liberation Sans, sans-serif" font-size="12.2px" fill="#fff" textLength="23.30" lengthAdjust="spacingAndGlyphs" >BUY</text>
<text x="17.2" y="97.9" font-family="Liberation Sans, sans-serif" font-size="12.2px" fill="#fff" textLength="34.70" lengthAdjust="spacingAndGlyphs" font-weight="bold">23866</text>
<text x="127.1" y="98" font-family="Liberation Sans, sans-serif" font-size="12.2px" fill="#fff" textLength="34.40" lengthAdjust="spacingAndGlyphs" font-weight="bold">23889</text>
<circle cx="58.4" cy="95.7" r="2.2" fill="#fff"/><circle cx="169.3" cy="95.7" r="2.2" fill="#fff"/>
<text x="62.2" y="97.9" font-family="Liberation Serif, serif" font-size="35.5px" fill="#fff">0</text>
<text x="173.3" y="97.9" font-family="Liberation Serif, serif" font-size="35.5px" fill="#fff">0</text>
<g clip-path="url(#cd)" shape-rendering="crispEdges">
<path d="M-9.5 677V735M-1.5 677V723M6.5 677V714M14.5 677V703M22.5 677V692M30.5 677V685M38.5 677V681M46.5 677V678M54.5 678V672M62.5 678V670M70.5 678V665M78.5 678V662M86.5 678V659M94.5 678V659M102.5 678V662M110.5 678V663M118.5 678V664M126.5 678V663M134.5 678V663M142.5 678V660M150.5 678V656M158.5 678V650M166.5 678V649M174.5 678V653M182.5 678V658M190.5 678V660M198.5 678V661M206.5 678V664M214.5 678V661M222.5 678V657M230.5 678V653M238.5 678V649M246.5 678V649M254.5 678V650M262.5 678V650M270.5 678V651M278.5 678V652M286.5 678V648M294.5 678V647M302.5 678V645M310.5 678V644M318.5 678V644M326.5 678V643M334.5 678V641M342.5 678V637M350.5 678V630M358.5 678V624M366.5 678V619M374.5 678V616M382.5 678V612M390.5 678V604M398.5 678V598M406.5 678V596M414.5 678V591M422.5 678V588M430.5 678V587M438.5 678V589M446.5 678V594M454.5 678V605M462.5 678V613M470.5 678V621M478.5 678V627M486.5 678V629M494.5 678V633M502.5 678V634M510.5 678V638M518.5 678V641M526.5 678V642M534.5 678V643M542.5 678V647M550.5 678V649M558.5 678V652M566.5 678V655M574.5 678V656M582.5 678V658M590.5 678V661M598.5 678V663M606.5 678V665M614.5 678V665M622.5 678V663M630.5 678V663M638.5 678V663M646.5 678V663M654.5 678V662M662.5 678V661M670.5 678V662M678.5 678V660M686.5 678V658M694.5 678V657M702.5 678V658M710.5 678V658M718.5 678V659M726.5 678V659M734.5 678V660M742.5 678V662M750.5 678V666M758.5 678V669M766.5 678V668M774.5 678V670M782.5 678V671M790.5 678V674M798.5 677V681M806.5 677V685M814.5 677V684M822.5 677V683M830.5 677V682M838.5 677V682M846.5 677V681M854.5 677V680M862.5 677V679M870.5 678V675M878.5 678V669M886.5 678V663M894.5 678V660M902.5 678V658M910.5 678V657M918.5 678V657M926.5 678V658M934.5 678V658M942.5 678V660M950.5 678V661M958.5 678V659M966.5 678V658M974.5 678V657M982.5 678V657M990.5 678V659M998.5 678V660M1006.5 678V661M1014.5 678V660M1022.5 678V657M1030.5 678V660M1038.5 678V661M1046.5 678V662M1054.5 678V663M1062.5 678V668M1070.5 678V669M1078.5 678V670M1086.5 678V670M1094.5 678V668M1102.5 678V667M1110.5 678V667M1118.5 678V667M1126.5 678V668M1134.5 678V670M1142.5 678V671M1150.5 678V675M1158.5 678V675M1166.5 678V676M1174.5 678V676M1182.5 678V676M1190.5 678V675M1198.5 678V672M1206.5 678V670M1214.5 678V669M1222.5 678V669M1230.5 678V670M1238.5 678V671M1246.5 678V670M1254.5 678V670M1262.5 678V669M1270.5 678V666M1278.5 678V665M1286.5 678V664M1294.5 678V663M1302.5 678V664M1310.5 678V664M1318.5 678V665M1326.5 678V665M1334.5 678V666M1342.5 678V666M1350.5 678V666M1358.5 678V666M1366.5 678V667M1374.5 678V668M1382.5 678V668M1390.5 678V670M1398.5 678V672M1406.5 678V675M1414.5 678V677M1422.5 677V680M1430.5 677V682M1438.5 677V681M1446.5 678V675" stroke="#c0c0c0"/>
<polyline points="-9.5,744.3 -1.5,738.4 6.5,733.1 14.5,727.5 22.5,722.0 30.5,716.6 38.5,710.5 46.5,704.3 54.5,697.2 62.5,690.0 70.5,683.6 78.5,677.9 86.5,673.2 94.5,669.7 102.5,667.3 110.5,665.4 118.5,663.9 126.5,663.0 134.5,662.2 142.5,661.7 150.5,661.1 158.5,660.0 166.5,658.9 174.5,657.9 182.5,657.2 190.5,656.9 198.5,656.7 206.5,656.8 214.5,656.9 222.5,657.0 230.5,657.3 238.5,657.2 246.5,656.9 254.5,656.0 262.5,654.8 270.5,653.7 278.5,652.4 286.5,651.0 294.5,649.9 302.5,649.0 310.5,648.5 318.5,647.9 326.5,647.2 334.5,646.2 342.5,644.6 350.5,642.1 358.5,639.5 366.5,636.3 374.5,633.1 382.5,629.5 390.5,625.0 398.5,619.9 406.5,614.9 414.5,609.9 422.5,605.2 430.5,601.0 438.5,597.8 446.5,595.3 454.5,594.7 462.5,595.7 470.5,598.2 478.5,601.7 486.5,605.9 494.5,610.9 502.5,616.1 510.5,621.5 518.5,626.8 526.5,630.8 534.5,634.2 542.5,637.1 550.5,639.5 558.5,642.1 566.5,644.6 574.5,647.0 582.5,649.2 590.5,651.4 598.5,653.7 606.5,656.1 614.5,658.2 622.5,659.7 630.5,661.0 638.5,661.8 646.5,662.5 654.5,663.0 662.5,663.0 670.5,662.9 678.5,662.4 686.5,661.5 694.5,660.9 702.5,660.4 710.5,659.9 718.5,659.4 726.5,659.1 734.5,659.0 742.5,659.1 750.5,659.8 758.5,661.0 766.5,662.2 774.5,663.5 782.5,664.9 790.5,666.6 798.5,669.0 806.5,671.6 814.5,673.9 822.5,675.7 830.5,677.0 838.5,678.4 846.5,679.5 854.5,680.5 862.5,680.9 870.5,680.4 878.5,678.7 886.5,676.5 894.5,674.1 902.5,671.6 910.5,669.0 918.5,666.5 926.5,664.0 934.5,661.8 942.5,660.1 950.5,659.2 958.5,658.8 966.5,658.5 974.5,658.4 982.5,658.3 990.5,658.5 998.5,658.7 1006.5,659.0 1014.5,659.1 1022.5,658.7 1030.5,658.8 1038.5,659.1 1046.5,659.7 1054.5,660.4 1062.5,661.4 1070.5,662.4 1078.5,663.4 1086.5,664.5 1094.5,665.7 1102.5,666.5 1110.5,667.2 1118.5,667.7 1126.5,668.3 1134.5,668.5 1142.5,668.7 1150.5,669.2 1158.5,669.8 1166.5,670.6 1174.5,671.6 1182.5,672.5 1190.5,673.4 1198.5,673.8 1206.5,673.9 1214.5,673.7 1222.5,673.2 1230.5,672.6 1238.5,672.1 1246.5,671.4 1254.5,670.8 1262.5,670.1 1270.5,669.4 1278.5,668.8 1286.5,668.2 1294.5,667.6 1302.5,666.9 1310.5,666.1 1318.5,665.6 1326.5,665.0 1334.5,664.6 1342.5,664.6 1350.5,664.7 1358.5,664.9 1366.5,665.3 1374.5,665.7 1382.5,666.2 1390.5,666.8 1398.5,667.6 1406.5,668.6 1414.5,669.9 1422.5,671.4 1430.5,673.0 1438.5,674.4 1446.5,675.2" fill="none" stroke="#f00" stroke-dasharray="3,3"/>
</g>
<text x="2.2" y="590.3" font-family="Liberation Sans, sans-serif" font-size="9.9px" fill="#000" textLength="117.20" lengthAdjust="spacingAndGlyphs" >MACD(12,26,9) 20.51 16.01</text>
<path d="M0 786.5H1688M0 837.5H1688M0 898.5H1688" stroke="#c0c0c0" stroke-dasharray="3,3" shape-rendering="crispEdges"/>
<g clip-path="url(#cr)">
<polyline points="-9.5,851.2 -1.5,833.8 6.5,833.9 14.5,829.8 22.5,827.4 30.5,830.6 38.5,832.3 46.5,834.0 54.5,827.8 62.5,833.0 70.5,826.8 78.5,828.1 86.5,828.7 94.5,831.3 102.5,838.6 110.5,835.0 118.5,833.8 126.5,831.4 134.5,831.2 142.5,824.3 150.5,821.2 158.5,814.3 166.5,825.0 174.5,835.4 182.5,841.0 190.5,837.3 198.5,833.3 206.5,837.8 214.5,826.4 222.5,821.0 230.5,819.2 238.5,817.5 246.5,827.6 254.5,826.3 262.5,825.4 270.5,830.0 278.5,827.2 286.5,815.4 294.5,822.5 302.5,816.7 310.5,821.5 318.5,821.9 326.5,818.5 334.5,812.7 342.5,807.2 350.5,799.7 358.5,798.4 366.5,796.0 374.5,796.4 382.5,792.9 390.5,785.5 398.5,784.0 406.5,796.2 414.5,789.9 422.5,789.5 430.5,791.1 438.5,803.1 446.5,808.6 454.5,834.0 462.5,828.0 470.5,830.9 478.5,830.1 486.5,821.8 494.5,826.0 502.5,822.3 510.5,828.5 518.5,829.1 526.5,820.9 534.5,824.2 542.5,833.9 550.5,828.3 558.5,833.8 566.5,834.9 574.5,829.3 582.5,831.9 590.5,838.0 598.5,834.4 606.5,836.6 614.5,833.1 622.5,822.6 630.5,829.3 638.5,827.7 646.5,827.3 654.5,824.5 662.5,824.2 670.5,826.0 678.5,817.4 686.5,814.5 694.5,821.3 702.5,827.0 710.5,823.4 718.5,822.1 726.5,823.8 734.5,827.3 742.5,834.6 750.5,847.4 758.5,842.0 766.5,829.1 774.5,837.7 782.5,838.9 790.5,849.6 798.5,861.9 806.5,859.4 814.5,839.4 822.5,836.7 830.5,836.7 838.5,839.5 846.5,837.6 854.5,837.8 862.5,832.7 870.5,823.1 878.5,808.6 886.5,805.2 894.5,814.5 902.5,813.2 910.5,818.2 918.5,823.7 926.5,823.7 934.5,822.4 942.5,830.7 950.5,828.7 958.5,814.9 966.5,814.9 974.5,812.1 982.5,817.3 990.5,836.1 998.5,824.8 1006.5,830.8 1014.5,822.9 1022.5,812.4 1030.5,835.3 1038.5,831.8 1046.5,833.3 1054.5,830.7 1062.5,847.6 1070.5,836.8 1078.5,838.3 1086.5,832.2 1094.5,826.5 1102.5,829.3 1110.5,829.9 1118.5,831.2 1126.5,834.7 1134.5,838.2 1142.5,837.9 1150.5,851.8 1158.5,839.1 1166.5,840.4 1174.5,838.3 1182.5,834.3 1190.5,831.6 1198.5,823.3 1206.5,821.1 1214.5,829.2 1222.5,830.1 1230.5,837.3 1238.5,833.5 1246.5,826.9 1254.5,834.3 1262.5,824.0 1270.5,815.5 1278.5,823.0 1286.5,823.3 1294.5,821.6 1302.5,827.5 1310.5,826.0 1318.5,829.1 1326.5,827.9 1334.5,826.6 1342.5,824.3 1350.5,822.7 1358.5,829.3 1366.5,828.7 1374.5,828.4 1382.5,831.3 1390.5,842.7 1398.5,843.8 1406.5,860.1 1414.5,847.6 1422.5,855.4 1430.5,859.3 1438.5,831.0 1446.5,813.8" fill="none" stroke="#1e90ff" shape-rendering="crispEdges"/>
</g>
<text x="2.3" y="762.7" font-family="Liberation Sans, sans-serif" font-size="9.9px" fill="#000" textLength="67.40" lengthAdjust="spacingAndGlyphs" >RSI(14) 63.8272</text>
<path d="M-1.5 925v3M62.5 925v3M126.5 925v3M190.5 925v3M254.5 925v3M318.5 925v3M382.5 925v3M446.5 925v3M510.5 925v3M574.5 925v3M638.5 925v3M702.5 925v3M766.5 925v3M830.5 925v3M894.5 925v3M958.5 925v3M1022.5 925v3M1086.5 925v3M1150.5 925v3M1214.5 925v3M1278.5 925v3M1342.5 925v3M1406.5 925v3" stroke="#000" shape-rendering="crispEdges"/>
<text x="-2.6" y="937.3" font-family="Liberation Sans, sans-serif" font-size="9.8px" fill="#000" textLength="44.98" lengthAdjust="spacingAndGlyphs" >5 Apr 2020</text>
<text x="61.4" y="937.3" font-family="Liberation Sans, sans-serif" font-size="9.8px" fill="#000" textLength="50.16" lengthAdjust="spacingAndGlyphs" >15 Apr 2020</text>
<text x="125.4" y="937.3" font-family="Liberation Sans, sans-serif" font-size="9.8px" fill="#000" textLength="50.16" lengthAdjust="spacingAndGlyphs" >24 Apr 2020</text>
<text x="189.4" y="937.3" font-family="Liberation Sans, sans-serif" font-size="9.8px" fill="#000" textLength="48.59" lengthAdjust="spacingAndGlyphs" >4 May 2020</text>
<text x="253.4" y="937.3" font-family="Liberation Sans, sans-serif" font-size="9.8px" fill="#000" textLength="53.77" lengthAdjust="spacingAndGlyphs" >13 May 2020</text>
<text x="317.4" y="937.3" font-family="Liberation Sans, sans-serif" font-size="9.8px" fill="#000" textLength="53.77" lengthAdjust="spacingAndGlyphs" >22 May 2020</text>
<text x="381.4" y="937.3" font-family="Liberation Sans, sans-serif" font-size="9.8px" fill="#000" textLength="46.02" lengthAdjust="spacingAndGlyphs" >1 Jun 2020</text>
<text x="445.4" y="937.3" font-family="Liberation Sans, sans-serif" font-size="9.8px" fill="#000" textLength="51.19" lengthAdjust="spacingAndGlyphs" >10 Jun 2020</text>
<text x="509.4" y="937.3" font-family="Liberation Sans, sans-serif" font-size="9.8px" fill="#000" textLength="51.19" lengthAdjust="spacingAndGlyphs" >19 Jun 2020</text>
<text x="573.4" y="937.3" font-family="Liberation Sans, sans-serif" font-size="9.8px" fill="#000" textLength="51.19" lengthAdjust="spacingAndGlyphs" >29 Jun 2020</text>
<text x="637.4" y="937.3" font-family="Liberation Sans, sans-serif" font-size="9.8px" fill="#000" textLength="42.91" lengthAdjust="spacingAndGlyphs" >8 Jul 2020</text>
<text x="701.4" y="937.3" font-family="Liberation Sans, sans-serif" font-size="9.8px" fill="#000" textLength="48.09" lengthAdjust="spacingAndGlyphs" >17 Jul 2020</text>
<text x="765.4" y="937.3" font-family="Liberation Sans, sans-serif" font-size="9.8px" fill="#000" textLength="48.09" lengthAdjust="spacingAndGlyphs" >27 Jul 2020</text>
<text x="829.4" y="937.3" font-family="Liberation Sans, sans-serif" font-size="9.8px" fill="#000" textLength="47.06" lengthAdjust="spacingAndGlyphs" >5 Aug 2020</text>
<text x="893.4" y="937.3" font-family="Liberation Sans, sans-serif" font-size="9.8px" fill="#000" textLength="52.23" lengthAdjust="spacingAndGlyphs" >14 Aug 2020</text>
<text x="957.4" y="937.3" font-family="Liberation Sans, sans-serif" font-size="9.8px" fill="#000" textLength="52.23" lengthAdjust="spacingAndGlyphs" >24 Aug 2020</text>
<text x="1021.4" y="937.3" font-family="Liberation Sans, sans-serif" font-size="9.8px" fill="#000" textLength="47.57" lengthAdjust="spacingAndGlyphs" >2 Sep 2020</text>
<text x="1085.4" y="937.3" font-family="Liberation Sans, sans-serif" font-size="9.8px" fill="#000" textLength="52.05" lengthAdjust="spacingAndGlyphs" >11 Sep 2020</text>
<text x="1149.4" y="937.3" font-family="Liberation Sans, sans-serif" font-size="9.8px" fill="#000" textLength="52.74" lengthAdjust="spacingAndGlyphs" >21 Sep 2020</text>
<text x="1213.4" y="937.3" font-family="Liberation Sans, sans-serif" font-size="9.8px" fill="#000" textLength="52.74" lengthAdjust="spacingAndGlyphs" >30 Sep 2020</text>
<text x="1277.4" y="937.3" font-family="Liberation Sans, sans-serif" font-size="9.8px" fill="#000" textLength="45.49" lengthAdjust="spacingAndGlyphs" >9 Oct 2020</text>
<text x="1341.4" y="937.3" font-family="Liberation Sans, sans-serif" font-size="9.8px" fill="#000" textLength="50.66" lengthAdjust="spacingAndGlyphs" >19 Oct 2020</text>
<text x="1405.4" y="937.3" font-family="Liberation Sans, sans-serif" font-size="9.8px" fill="#000" textLength="50.66" lengthAdjust="spacingAndGlyphs" >28 Oct 2020</text>
<text x="1693.6" y="115" font-family="Liberation Sans, sans-serif" font-size="9.9px" fill="#000" textLength="34.20" lengthAdjust="spacingAndGlyphs" >23164.0</text>
<text x="1693.6" y="148" font-family="Liberation Sans, sans-serif" font-size="9.9px" fill="#000" textLength="34.20" lengthAdjust="spacingAndGlyphs" >22773.0</text>
<text x="1693.6" y="181" font-family="Liberation Sans, sans-serif" font-size="9.9px" fill="#000" textLength="34.20" lengthAdjust="spacingAndGlyphs" >22370.5</text>
<text x="1693.6" y="214" font-family="Liberation Sans, sans-serif" font-size="9.9px" fill="#000" textLength="34.20" lengthAdjust="spacingAndGlyphs" >21979.5</text>
<text x="1693.6" y="247" font-family="Liberation Sans, sans-serif" font-size="9.9px" fill="#000" textLength="34.20" lengthAdjust="spacingAndGlyphs" >21588.5</text>
<text x="1693.6" y="280" font-family="Liberation Sans, sans-serif" font-size="9.9px" fill="#000" textLength="34.20" lengthAdjust="spacingAndGlyphs" >21186.0</text>
<text x="1693.6" y="313" font-family="Liberation Sans, sans-serif" font-size="9.9px" fill="#000" textLength="34.20" lengthAdjust="spacingAndGlyphs" >20795.5</text>
<text x="1693.6" y="346" font-family="Liberation Sans, sans-serif" font-size="9.9px" fill="#000" textLength="34.20" lengthAdjust="spacingAndGlyphs" >20392.5</text>
<text x="1693.6" y="379" font-family="Liberation Sans, sans-serif" font-size="9.9px" fill="#000" textLength="34.20" lengthAdjust="spacingAndGlyphs" >20001.5</text>
<text x="1693.6" y="412" font-family="Liberation Sans, sans-serif" font-size="9.9px" fill="#000" textLength="34.20" lengthAdjust="spacingAndGlyphs" >19610.5</text>
<text x="1693.6" y="445" font-family="Liberation Sans, sans-serif" font-size="9.9px" fill="#000" textLength="34.20" lengthAdjust="spacingAndGlyphs" >19208.0</text>
<text x="1693.6" y="478" font-family="Liberation Sans, sans-serif" font-size="9.9px" fill="#000" textLength="34.20" lengthAdjust="spacingAndGlyphs" >18817.0</text>
<text x="1693.6" y="511" font-family="Liberation Sans, sans-serif" font-size="9.9px" fill="#000" textLength="34.20" lengthAdjust="spacingAndGlyphs" >18414.5</text>
<text x="1693.6" y="544" font-family="Liberation Sans, sans-serif" font-size="9.9px" fill="#000" textLength="34.20" lengthAdjust="spacingAndGlyphs" >18023.5</text>
<text x="1693.6" y="577" font-family="Liberation Sans, sans-serif" font-size="9.9px" fill="#000" textLength="34.20" lengthAdjust="spacingAndGlyphs" >17632.5</text>
<text x="1693.6" y="82" font-family="Liberation Sans, sans-serif" font-size="9.9px" fill="#000" textLength="34.20" lengthAdjust="spacingAndGlyphs" >23566.5</text>
<text x="1693.6" y="49" font-family="Liberation Sans, sans-serif" font-size="9.9px" fill="#000" textLength="34.20" lengthAdjust="spacingAndGlyphs" >23957.5</text>
<text x="1692" y="588.8" font-family="Liberation Sans, sans-serif" font-size="9.9px" fill="#000" textLength="28.20" lengthAdjust="spacingAndGlyphs" >882.57</text>
<text x="1692" y="681" font-family="Liberation Sans, sans-serif" font-size="9.9px" fill="#000" textLength="18.60" lengthAdjust="spacingAndGlyphs" >0.00</text>
<text x="1692" y="745" font-family="Liberation Sans, sans-serif" font-size="9.9px" fill="#000" textLength="31.20" lengthAdjust="spacingAndGlyphs" >-631.49</text>
<text x="1692" y="760.7" font-family="Liberation Sans, sans-serif" font-size="9.9px" fill="#000" textLength="15.10" lengthAdjust="spacingAndGlyphs" >100</text>
<text x="1691.5" y="790" font-family="Liberation Sans, sans-serif" font-size="9.9px" fill="#000" textLength="10.20" lengthAdjust="spacingAndGlyphs" >80</text>
<text x="1691.5" y="841.2" font-family="Liberation Sans, sans-serif" font-size="9.9px" fill="#000" textLength="10.20" lengthAdjust="spacingAndGlyphs" >50</text>
<text x="1691.5" y="902" font-family="Liberation Sans, sans-serif" font-size="9.9px" fill="#000" textLength="10.20" lengthAdjust="spacingAndGlyphs" >15</text>
<text x="1692" y="921.1" font-family="Liberation Sans, sans-serif" font-size="9.9px" fill="#000" textLength="5.30" lengthAdjust="spacingAndGlyphs" >0</text>
<rect x="1690" y="23" width="41" height="11" fill="#f00"/>
<text x="1693.2" y="32" font-family="Liberation Sans, sans-serif" font-size="9.9px" fill="#fff" textLength="34.80" lengthAdjust="spacingAndGlyphs" >24146.0</text>
<rect x="1690" y="36" width="41" height="11" fill="#f00"/>
<text x="1693.2" y="45" font-family="Liberation Sans, sans-serif" font-size="9.9px" fill="#fff" textLength="34.80" lengthAdjust="spacingAndGlyphs" >23999.2</text>
<rect x="1690" y="48" width="41" height="11" fill="#000"/>
<text x="1693.2" y="57" font-family="Liberation Sans, sans-serif" font-size="9.9px" fill="#fff" textLength="34.80" lengthAdjust="spacingAndGlyphs" >23867.5</text>
<rect x="1690" y="61" width="41" height="11" fill="#32cd32"/>
<text x="1693.2" y="70" font-family="Liberation Sans, sans-serif" font-size="9.9px" fill="#fff" textLength="34.80" lengthAdjust="spacingAndGlyphs" >23690.3</text>
<rect x="1690" y="78" width="41" height="11" fill="#00f"/>
<text x="1693.2" y="87" font-family="Liberation Sans, sans-serif" font-size="9.9px" fill="#fff" textLength="34.80" lengthAdjust="spacingAndGlyphs" >23486.8</text>
<rect x="1690" y="99" width="41" height="11" fill="#00f"/>
<text x="1693.2" y="108" font-family="Liberation Sans, sans-serif" font-size="9.9px" fill="#fff" textLength="34.80" lengthAdjust="spacingAndGlyphs" >23241.1</text>
<rect x="1683.5" y="27.5" width="4" height="4" fill="#fff" stroke="#f00" shape-rendering="crispEdges"/>
<rect x="1683.5" y="40.5" width="4" height="4" fill="#fff" stroke="#f00" shape-rendering="crispEdges"/>
<rect x="1683.5" y="65.5" width="4" height="4" fill="#fff" stroke="#32cd32" shape-rendering="crispEdges"/>
<rect x="1683.5" y="82.5" width="4" height="4" fill="#fff" stroke="#00f" shape-rendering="crispEdges"/>
</svg>
</body></html>
